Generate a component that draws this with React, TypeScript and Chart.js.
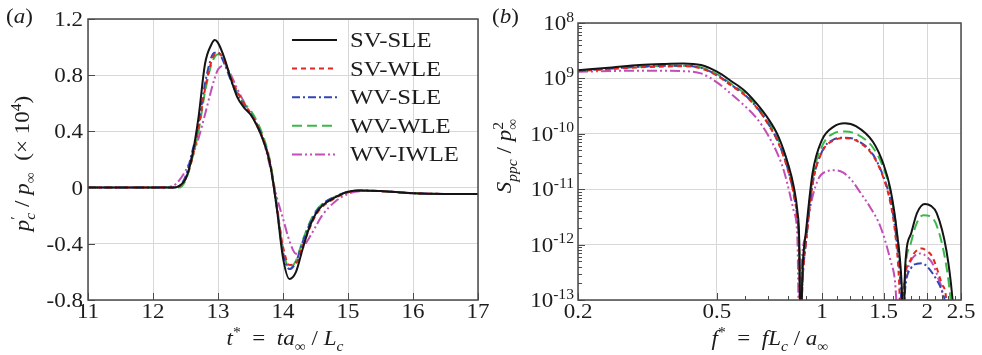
import { useEffect, useRef } from "react";
import { Chart, registerables } from "chart.js";
Chart.register(...registerables);

// ---------- panel (a): pressure signal ----------
const T_STAR = [11, 12, 12.3, 12.4, 12.5, 12.6, 12.7, 12.8, 12.9, 12.95, 13.0, 13.1, 13.2, 13.3, 13.4, 13.5, 13.6, 13.7, 13.8, 13.9, 14.0, 14.1, 14.2, 14.3, 14.4, 14.5, 14.6, 14.8, 15.0, 15.2, 15.5, 16, 16.5, 17];
const P_SV_SLE = [0, 0, 0, 0.01, 0.06, 0.22, 0.5, 0.88, 1.02, 1.05, 1.03, 0.92, 0.77, 0.64, 0.57, 0.52, 0.44, 0.33, 0.17, -0.13, -0.5, -0.65, -0.6, -0.44, -0.29, -0.19, -0.13, -0.07, -0.03, -0.02, -0.025, -0.04, -0.045, -0.045];
const P_SV_WLE = [0, 0, 0, 0.01, 0.06, 0.2, 0.42, 0.7, 0.9, 0.95, 0.96, 0.9, 0.78, 0.68, 0.6, 0.53, 0.45, 0.34, 0.18, -0.12, -0.42, -0.55, -0.54, -0.42, -0.3, -0.2, -0.14, -0.075, -0.035, -0.02, -0.025, -0.04, -0.045, -0.045];
const P_WV_SLE = [0, 0, 0, 0.01, 0.08, 0.25, 0.45, 0.74, 0.93, 0.96, 0.96, 0.88, 0.76, 0.66, 0.59, 0.53, 0.45, 0.34, 0.17, -0.13, -0.46, -0.58, -0.53, -0.39, -0.27, -0.18, -0.12, -0.065, -0.03, -0.02, -0.025, -0.04, -0.045, -0.045];
const P_WV_WLE = [0, 0, 0, 0, 0.05, 0.2, 0.4, 0.68, 0.88, 0.93, 0.95, 0.9, 0.78, 0.67, 0.6, 0.55, 0.47, 0.36, 0.19, -0.1, -0.44, -0.57, -0.52, -0.38, -0.26, -0.17, -0.12, -0.065, -0.03, -0.02, -0.025, -0.04, -0.045, -0.045];
const P_WV_IWLE = [0, 0, 0.01, 0.05, 0.12, 0.22, 0.35, 0.52, 0.7, 0.78, 0.84, 0.87, 0.8, 0.7, 0.61, 0.53, 0.44, 0.33, 0.15, -0.06, -0.22, -0.38, -0.47, -0.43, -0.36, -0.28, -0.2, -0.1, -0.045, -0.025, -0.025, -0.04, -0.045, -0.045];
const A_X_TICKS = [11, 12, 13, 14, 15, 16, 17];
const A_X_LABELS = ["11", "12", "13", "14", "15", "16", "17"];
const A_Y_TICKS = [-0.8, -0.4, 0, 0.4, 0.8, 1.2];
const A_Y_LABELS = ["-0.8", "-0.4", "0", "0.4", "0.8", "1.2"];

// ---------- panel (b): spectra ----------
const F_SV_SLE = [0.2, 0.25, 0.3, 0.35, 0.4, 0.45, 0.5, 0.55, 0.6, 0.65, 0.7, 0.75, 0.8, 0.83, 0.85, 0.86, 0.868, 0.88, 0.9, 0.94, 1.0, 1.08, 1.16, 1.25, 1.4, 1.5, 1.57, 1.64, 1.69, 1.71, 1.73, 1.8, 1.87, 1.97, 2.05, 2.13, 2.27, 2.36, 2.4];
const S_SV_SLE = [1.41e-9, 1.58e-9, 1.74e-9, 1.82e-9, 1.86e-9, 1.74e-9, 1.32e-9, 8.9e-10, 6.0e-10, 3.5e-10, 1.9e-10, 8.9e-11, 2.8e-11, 1.1e-11, 4.0e-12, 1.26e-12, 2.5e-14, 4.0e-13, 1.8e-12, 2.0e-11, 7.8e-11, 1.35e-10, 1.55e-10, 1.38e-10, 7.1e-11, 2.8e-11, 1.0e-11, 1.6e-12, 2.0e-13, 2.5e-14, 4.0e-13, 1.6e-12, 3.7e-12, 5.4e-12, 5.0e-12, 3.7e-12, 7.9e-13, 1.15e-13, 2.5e-14];
const F_SV_WLE = [0.2, 0.3, 0.4, 0.45, 0.5, 0.55, 0.6, 0.65, 0.7, 0.75, 0.8, 0.83, 0.85, 0.86, 0.866, 0.88, 0.9, 0.94, 1.0, 1.08, 1.16, 1.25, 1.4, 1.5, 1.57, 1.62, 1.66, 1.685, 1.72, 1.8, 1.87, 1.93, 2.0, 2.07, 2.2, 2.27, 2.3];
const S_SV_WLE = [1.35e-9, 1.58e-9, 1.66e-9, 1.51e-9, 1.12e-9, 7.4e-10, 5.0e-10, 2.95e-10, 1.51e-10, 6.8e-11, 2.1e-11, 7.9e-12, 2.8e-12, 7.9e-13, 2.5e-14, 2.5e-13, 1.12e-12, 1.26e-11, 4.7e-11, 7.6e-11, 8.3e-11, 7.6e-11, 4.0e-11, 1.58e-11, 5.6e-12, 1.58e-12, 2.5e-13, 2.5e-14, 2.0e-13, 5.6e-13, 7.9e-13, 8.5e-13, 7.6e-13, 6.0e-13, 2.0e-13, 1.0e-13, 2.5e-14];
const F_WV_SLE = [0.2, 0.3, 0.4, 0.45, 0.5, 0.55, 0.6, 0.65, 0.7, 0.75, 0.8, 0.83, 0.85, 0.86, 0.867, 0.88, 0.9, 0.94, 1.0, 1.08, 1.16, 1.25, 1.4, 1.5, 1.57, 1.63, 1.68, 1.7, 1.73, 1.8, 1.87, 1.93, 2.0, 2.13, 2.2, 2.26, 2.3];
const S_WV_SLE = [1.38e-9, 1.62e-9, 1.7e-9, 1.55e-9, 1.15e-9, 7.6e-10, 5.1e-10, 3.0e-10, 1.55e-10, 6.9e-11, 2.2e-11, 7.9e-12, 2.8e-12, 7.9e-13, 2.5e-14, 2.5e-13, 1.12e-12, 1.26e-11, 4.8e-11, 7.9e-11, 8.5e-11, 7.8e-11, 4.2e-11, 1.66e-11, 6.3e-12, 1.41e-12, 1.58e-13, 2.5e-14, 1.58e-13, 3.8e-13, 4.5e-13, 4.6e-13, 4.0e-13, 2.3e-13, 1.51e-13, 7.9e-14, 2.5e-14];
const F_WV_WLE = [0.2, 0.3, 0.4, 0.45, 0.5, 0.55, 0.6, 0.65, 0.7, 0.75, 0.8, 0.83, 0.85, 0.86, 0.868, 0.88, 0.9, 0.94, 1.0, 1.08, 1.16, 1.25, 1.4, 1.5, 1.57, 1.63, 1.68, 1.7, 1.73, 1.8, 1.87, 1.95, 2.05, 2.13, 2.25, 2.33, 2.37];
const S_WV_WLE = [1.38e-9, 1.62e-9, 1.7e-9, 1.58e-9, 1.2e-9, 7.9e-10, 5.4e-10, 3.2e-10, 1.66e-10, 7.6e-11, 2.4e-11, 8.9e-12, 3.2e-12, 1.0e-12, 2.5e-14, 3.2e-13, 1.41e-12, 1.58e-11, 6.0e-11, 1.02e-10, 1.1e-10, 1.0e-10, 5.6e-11, 2.4e-11, 8.9e-12, 2.0e-12, 2.5e-13, 2.5e-14, 3.2e-13, 1.12e-12, 2.5e-12, 3.4e-12, 3.2e-12, 2.2e-12, 5.6e-13, 1.12e-13, 2.5e-14];
const F_WV_IWLE = [0.2, 0.3, 0.4, 0.45, 0.5, 0.55, 0.6, 0.65, 0.7, 0.75, 0.78, 0.83, 0.85, 0.86, 0.875, 0.9, 0.92, 0.97, 1.03, 1.09, 1.15, 1.22, 1.29, 1.38, 1.47, 1.57, 1.62, 1.655, 1.7, 1.75, 1.8, 1.91, 2.0, 2.07, 2.15, 2.22, 2.26];
const S_WV_IWLE = [1.32e-9, 1.38e-9, 1.35e-9, 1.23e-9, 8.5e-10, 5.2e-10, 3.2e-10, 1.9e-10, 9.5e-11, 4.0e-11, 2.0e-11, 4.0e-12, 1.26e-12, 2.5e-14, 5.0e-13, 1.58e-12, 4.0e-12, 1.41e-11, 2.1e-11, 2.2e-11, 2.0e-11, 1.41e-11, 8.5e-12, 4.5e-12, 2.1e-12, 5.2e-13, 2.0e-13, 2.5e-14, 1.26e-13, 3.2e-13, 5.2e-13, 6.9e-13, 6.0e-13, 4.6e-13, 2.5e-13, 1.15e-13, 2.5e-14];
const B_X_TICKS = [0.2, 0.5, 1, 1.5, 2, 2.5];
const B_X_LABELS = ["0.2", "0.5", "1", "1.5", "2", "2.5"];
const B_X_MINOR = [0.6, 0.7, 0.8, 0.9, 1.1, 1.2, 1.3, 1.4, 1.6, 1.7, 1.8, 1.9, 2.1, 2.2, 2.3, 2.4];
const B_Y_TICKS = [1e-8, 1e-9, 1e-10, 1e-11, 1e-12, 1e-13];
const B_Y_EXP = ["8", "9", "-10", "-11", "-12", "-13"];

const SERIES_NAMES = ["SV-SLE", "SV-WLE", "WV-SLE", "WV-WLE", "WV-IWLE"];

// styles
const STYLES = [
  { color: "#141414", dash: [] as number[] },
  { color: "#e3261f", dash: [5, 4] },
  { color: "#3246b4", dash: [8, 3, 2, 3] },
  { color: "#3cb84a", dash: [10, 5] },
  { color: "#c24fb8", dash: [10, 3, 2, 3, 2, 3] },
];
const GRID = "#d8d8d8";
const AXIS = "#4a4a4a";
const TXT = "#1c1c1c";
const FONT = '"Liberation Serif", "Times New Roman", serif';
const SX = 1.15;

type Seg = { t: string; it?: boolean; sub?: boolean; sup?: boolean; na?: boolean };

function rich(ctx: CanvasRenderingContext2D, segs: Seg[], x: number, y: number, size: number, align: "left" | "center" | "right", rot = false) {
  let w = 0;
  const items = segs.map((s) => {
    const fs = s.sub || s.sup ? size * 0.68 : size;
    const font = `${s.it ? "italic " : ""}${fs}px ${FONT}`;
    ctx.font = font;
    const mw = ctx.measureText(s.t).width;
    const it = { t: s.t, font, x: w, dy: s.sub ? size * 0.3 : s.sup ? -size * 0.42 : 0 };
    if (!s.na) w += mw;
    return it;
  });
  ctx.save();
  ctx.translate(x, y);
  if (rot) ctx.rotate(-Math.PI / 2);
  ctx.scale(SX, 1);
  const off = align === "center" ? -w / 2 : align === "right" ? -w : 0;
  ctx.fillStyle = TXT;
  ctx.textAlign = "left";
  ctx.textBaseline = "alphabetic";
  items.forEach((it) => {
    ctx.font = it.font;
    ctx.fillText(it.t, off + it.x, it.dy);
  });
  ctx.restore();
}

function pts(xs: number[], ys: number[]) {
  return xs.map((x, i) => ({ x, y: ys[i] }));
}

function dataset(i: number, data: { x: number; y: number }[]) {
  return {
    label: SERIES_NAMES[i],
    data,
    borderColor: STYLES[i].color,
    backgroundColor: STYLES[i].color,
    borderWidth: 2,
    borderDash: STYLES[i].dash,
    pointRadius: 0,
    fill: false,
    cubicInterpolationMode: "monotone" as const,
  };
}

function box(ctx: CanvasRenderingContext2D, a: { left: number; right: number; top: number; bottom: number }) {
  ctx.save();
  ctx.strokeStyle = AXIS;
  ctx.lineWidth = 1.5;
  ctx.setLineDash([]);
  ctx.strokeRect(a.left, a.top, a.right - a.left, a.bottom - a.top);
  ctx.restore();
}

const decorA = {
  id: "decorA",
  afterDraw(chart: any) {
    const ctx: CanvasRenderingContext2D = chart.ctx;
    const a = chart.chartArea;
    const xs = chart.scales.x;
    const ys = chart.scales.y;
    ctx.save();
    ctx.strokeStyle = AXIS;
    ctx.lineWidth = 1;
    ctx.beginPath();
    A_Y_TICKS.forEach((v) => {
      const p = Math.round(ys.getPixelForValue(v)) + 0.5;
      ctx.moveTo(a.left, p);
      ctx.lineTo(a.left + 7, p);
    });
    A_X_TICKS.forEach((v) => {
      const p = Math.round(xs.getPixelForValue(v)) + 0.5;
      ctx.moveTo(p, a.bottom);
      ctx.lineTo(p, a.bottom - 7);
    });
    ctx.stroke();
    ctx.restore();
    box(ctx, a);
    A_Y_TICKS.forEach((v, i) => rich(ctx, [{ t: A_Y_LABELS[i] }], a.left - 5, ys.getPixelForValue(v) + 7, 20, "right"));
    A_X_TICKS.forEach((v, i) => rich(ctx, [{ t: A_X_LABELS[i] }], xs.getPixelForValue(v), a.bottom + 18, 20, "center"));
    // axis titles
    rich(ctx, [{ t: "t", it: true }, { t: "*", sup: true }, { t: "  =  " }, { t: "ta", it: true }, { t: "∞", sub: true }, { t: " / " }, { t: "L", it: true }, { t: "c", it: true, sub: true }], (a.left + a.right) / 2 + 2, a.bottom + 45, 20, "center");
    rich(ctx, [{ t: "p", it: true }, { t: "′", sup: true, na: true }, { t: "c", it: true, sub: true }, { t: " / " }, { t: "p", it: true }, { t: "∞", sub: true }, { t: "  (× 10" }, { t: "4", sup: true }, { t: ")" }], 29, (a.top + a.bottom) / 2 + 4, 20, "center", true);
    rich(ctx, [{ t: "(" }, { t: "a", it: true }, { t: ")" }], 6, 23, 20, "left");
    // legend
    ctx.save();
    SERIES_NAMES.forEach((name, i) => {
      const y = a.top + 21 + i * 28.6;
      ctx.strokeStyle = STYLES[i].color;
      ctx.lineWidth = 2;
      ctx.setLineDash(STYLES[i].dash);
      ctx.beginPath();
      ctx.moveTo(a.right - 186, y);
      ctx.lineTo(a.right - 141, y);
      ctx.stroke();
      rich(ctx, [{ t: name }], a.right - 128, y + 7, 21.5, "left");
    });
    ctx.restore();
  },
};

const decorB = {
  id: "decorB",
  afterDraw(chart: any) {
    const ctx: CanvasRenderingContext2D = chart.ctx;
    const a = chart.chartArea;
    const xs = chart.scales.x;
    const ys = chart.scales.y;
    ctx.save();
    ctx.strokeStyle = AXIS;
    ctx.lineWidth = 1;
    ctx.beginPath();
    B_Y_TICKS.forEach((v) => {
      const p = Math.round(ys.getPixelForValue(v)) + 0.5;
      ctx.moveTo(a.left, p);
      ctx.lineTo(a.left + 7, p);
    });
    for (let d = -13; d < -8; d++) {
      for (let m = 2; m <= 9; m++) {
        const p = Math.round(ys.getPixelForValue(m * Math.pow(10, d))) + 0.5;
        ctx.moveTo(a.left, p);
        ctx.lineTo(a.left + 4, p);
      }
    }
    B_X_TICKS.forEach((v) => {
      const p = Math.round(xs.getPixelForValue(v)) + 0.5;
      ctx.moveTo(p, a.bottom);
      ctx.lineTo(p, a.bottom - 7);
    });
    B_X_MINOR.forEach((v) => {
      const p = Math.round(xs.getPixelForValue(v)) + 0.5;
      ctx.moveTo(p, a.bottom);
      ctx.lineTo(p, a.bottom - 4);
    });
    ctx.stroke();
    ctx.restore();
    box(ctx, a);
    B_Y_TICKS.forEach((v, i) => rich(ctx, [{ t: "10" }, { t: B_Y_EXP[i], sup: true }], a.left - 4, ys.getPixelForValue(v) + 7, 20, "right"));
    B_X_TICKS.forEach((v, i) => rich(ctx, [{ t: B_X_LABELS[i] }], xs.getPixelForValue(v), a.bottom + 18, 20, "center"));
    rich(ctx, [{ t: "f", it: true }, { t: "*", sup: true }, { t: "  =  " }, { t: "fL", it: true }, { t: "c", it: true, sub: true }, { t: " / " }, { t: "a", it: true }, { t: "∞", sub: true }], 280, a.bottom + 45, 20, "center");
    rich(ctx, [{ t: "S", it: true }, { t: "ppc", it: true, sub: true }, { t: " / " }, { t: "p", it: true }, { t: "2", sup: true, na: true }, { t: "∞", sub: true }], 21, 156, 20, "center", true);
    rich(ctx, [{ t: "(" }, { t: "b", it: true }, { t: ")" }], 2, 23, 20, "left");
  },
};

export default function App() {
  const refA = useRef<HTMLCanvasElement>(null);
  const refB = useRef<HTMLCanvasElement>(null);
  useEffect(() => {
    const gridOpts = { color: GRID, lineWidth: 1, drawTicks: false };
    const chartA = new Chart(refA.current!, {
      type: "line",
      data: {
        datasets: [
          dataset(0, pts(T_STAR, P_SV_SLE)),
          dataset(1, pts(T_STAR, P_SV_WLE)),
          dataset(2, pts(T_STAR, P_WV_SLE)),
          dataset(3, pts(T_STAR, P_WV_WLE)),
          dataset(4, pts(T_STAR, P_WV_IWLE)),
        ],
      },
      options: {
        responsive: false,
        animation: false,
        events: [],
        layout: { padding: { left: 0, right: 12, top: 19, bottom: 0 } },
        plugins: { legend: { display: false }, tooltip: { enabled: false } },
        scales: {
          x: {
            type: "linear",
            min: 11,
            max: 17,
            grid: gridOpts,
            border: { display: false },
            ticks: { display: false },
            afterBuildTicks: (s: any) => { s.ticks = A_X_TICKS.map((v) => ({ value: v })); },
            afterFit: (s: any) => { s.height = 55; },
          },
          y: {
            type: "linear",
            min: -0.8,
            max: 1.2,
            grid: gridOpts,
            border: { display: false },
            ticks: { display: false },
            afterBuildTicks: (s: any) => { s.ticks = A_Y_TICKS.map((v) => ({ value: v })); },
            afterFit: (s: any) => { s.width = 88; },
          },
        },
      },
      plugins: [decorA],
    } as any);
    const chartB = new Chart(refB.current!, {
      type: "line",
      data: {
        datasets: [
          dataset(0, pts(F_SV_SLE, S_SV_SLE)),
          dataset(1, pts(F_SV_WLE, S_SV_WLE)),
          dataset(2, pts(F_WV_SLE, S_WV_SLE)),
          dataset(3, pts(F_WV_WLE, S_WV_WLE)),
          dataset(4, pts(F_WV_IWLE, S_WV_IWLE)),
        ],
      },
      options: {
        responsive: false,
        animation: false,
        events: [],
        layout: { padding: { left: 0, right: 21, top: 23, bottom: 0 } },
        plugins: { legend: { display: false }, tooltip: { enabled: false } },
        scales: {
          x: {
            type: "logarithmic",
            min: 0.2,
            max: 2.5,
            grid: gridOpts,
            border: { display: false },
            ticks: { display: false },
            afterBuildTicks: (s: any) => { s.ticks = B_X_TICKS.map((v) => ({ value: v })); },
            afterFit: (s: any) => { s.height = 55; },
          },
          y: {
            type: "logarithmic",
            min: 1e-13,
            max: 1e-8,
            grid: gridOpts,
            border: { display: false },
            ticks: { display: false },
            afterBuildTicks: (s: any) => { s.ticks = B_Y_TICKS.map((v) => ({ value: v })); },
            afterFit: (s: any) => { s.width = 88; },
          },
        },
      },
      plugins: [decorB],
    } as any);
    return () => {
      chartA.destroy();
      chartB.destroy();
    };
  }, []);
  return (
    <div style={{ position: "absolute", left: 0, top: 0, width: 982, height: 355, background: "#fff" }}>
      <canvas ref={refA} width={490} height={355} style={{ position: "absolute", left: 0, top: 0 }} />
      <canvas ref={refB} width={492} height={355} style={{ position: "absolute", left: 490, top: 0 }} />
    </div>
  );
}
